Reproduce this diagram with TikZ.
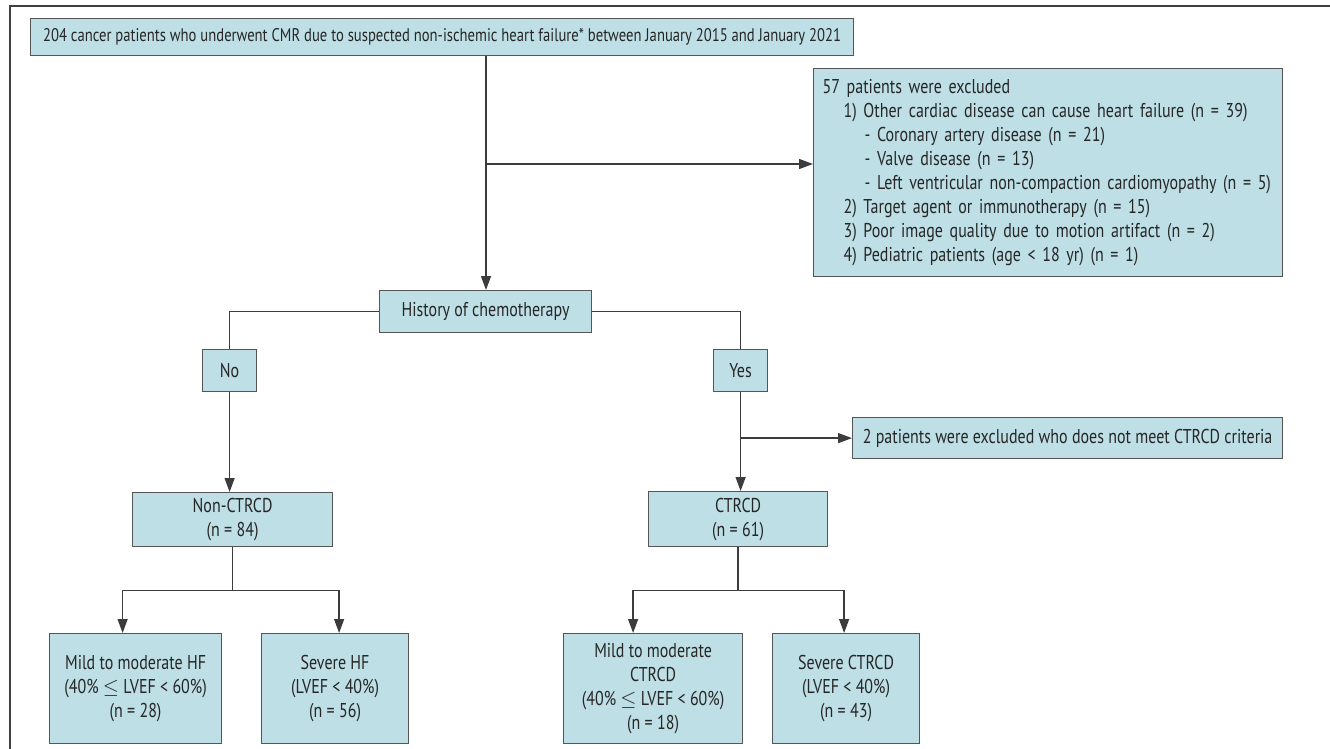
\documentclass[tikz,border=0pt]{standalone}
\usepackage{fontspec}
\setmainfont{PT Sans}[FakeStretch=0.8]
\usetikzlibrary{positioning, arrows.meta}
\definecolor{boxfill}{RGB}{190,223,229}
\definecolor{boxline}{RGB}{85,85,85}
\definecolor{flowline}{RGB}{60,60,60}
\tikzset{
    stage/.style={
           rectangle,
           draw=boxline, line width=1.2pt,
           fill=boxfill,
           inner sep=0pt,
           anchor=north west,
           align=center,
           text=black!85,
           font=\fontsize{20}{24}\selectfont,
           },
}

\begin{document}
\begin{tikzpicture}[x=1pt, y=-1pt, ->, >={Triangle[length=14pt,width=10pt]}, line width=1.3pt, color=flowline]
  \useasboundingbox (0,0) rectangle (1330,749);
  \draw[-, line width=1.6pt, black!75] (10,749) -- (10,6) -- (1330,6);

  \node[stage, minimum width=823pt, minimum height=37pt, font=\fontsize{18.3}{24}\selectfont] (Cohort) at (30,18) {204 cancer patients who underwent CMR due to suspected non-ischemic heart failure* between January 2015 and January 2021};
  \node[stage, minimum height=208pt, text width=451pt, inner xsep=9pt, align=left] (Excluded) at (813,68)
       {57 patients were excluded\\
        \hspace*{21pt}1) Other cardiac disease can cause heart failure (n = 39)\\
        \hspace*{42pt}- Coronary artery disease (n = 21)\\
        \hspace*{42pt}- Valve disease (n = 13)\\
        \hspace*{42pt}- Left ventricular non-compaction cardiomyopathy (n = 5)\\
        \hspace*{21pt}2) Target agent or immunotherapy (n = 15)\\
        \hspace*{21pt}3) Poor image quality due to motion artifact (n = 2)\\
        \hspace*{21pt}4) Pediatric patients (age < 18 yr) (n = 1)};
  \node[stage, minimum width=212pt, minimum height=42pt]   (History)  at (379,290) {History of chemotherapy};
  \node[stage, minimum width=54pt, minimum height=42pt]    (No)       at (202,349) {No};
  \node[stage, minimum width=54pt, minimum height=42pt]    (Yes)      at (713,349) {Yes};
  \node[stage, minimum width=430pt, minimum height=41pt]   (Excluded2) at (852,417) {2 patients were excluded who does not meet CTRCD criteria};
  \node[stage, minimum width=200pt, minimum height=54pt]   (NonCTRCD) at (132,492) {Non-CTRCD\\(n = 84)};
  \node[stage, minimum width=179pt, minimum height=55pt]   (CTRCD)    at (648,491) {CTRCD\\(n = 61)};
  \node[stage, minimum width=172pt, minimum height=110pt]  (MildHF)   at (49,633)  {Mild to moderate HF\\(40\% $\leq$ LVEF < 60\%)\\(n = 28)};
  \node[stage, minimum width=147pt, minimum height=110pt]  (SevereHF) at (261,633) {Severe HF\\(LVEF < 40\%)\\(n = 56)};
  \node[stage, minimum width=179pt, minimum height=110pt]  (MildCT)   at (563,633) {Mild to moderate\\CTRCD\\(40\% $\leq$ LVEF < 60\%)\\(n = 18)};
  \node[stage, minimum width=147pt, minimum height=110pt]  (SevereCT) at (772,633) {Severe CTRCD\\(LVEF < 40\%)\\(n = 43)};

  \coordinate (ExSplit)  at (486,164);
  \coordinate[below=43pt of NonCTRCD.south] (HFSplit);
  \coordinate[below=43pt of CTRCD.south]    (CTSplit);

  \draw (ExSplit |- Cohort.south) -- (ExSplit |- History.north);
  \draw (ExSplit) -- (ExSplit -| Excluded.west);
  \draw[-] (History.west) -| (No.north);
  \draw[-] (History.east) -| (Yes.north);
  \draw (No.south) -- (No.south |- NonCTRCD.north);
  \draw (Yes.south) -- (Yes.south |- CTRCD.north);
  \draw (Yes.south |- Excluded2.west) -- (Excluded2.west);

  \draw[-] (NonCTRCD.south) -- (HFSplit);
  \draw (HFSplit) -| ([xshift=-13pt]MildHF.north);
  \draw (HFSplit) -| ([xshift=4pt]SevereHF.north);
  \draw[-] (CTRCD.south) -- (CTSplit);
  \draw (CTSplit) -| ([xshift=-20pt]MildCT.north);
  \draw (CTSplit) -| ([xshift=-2pt]SevereCT.north);
\end{tikzpicture}
\end{document}
